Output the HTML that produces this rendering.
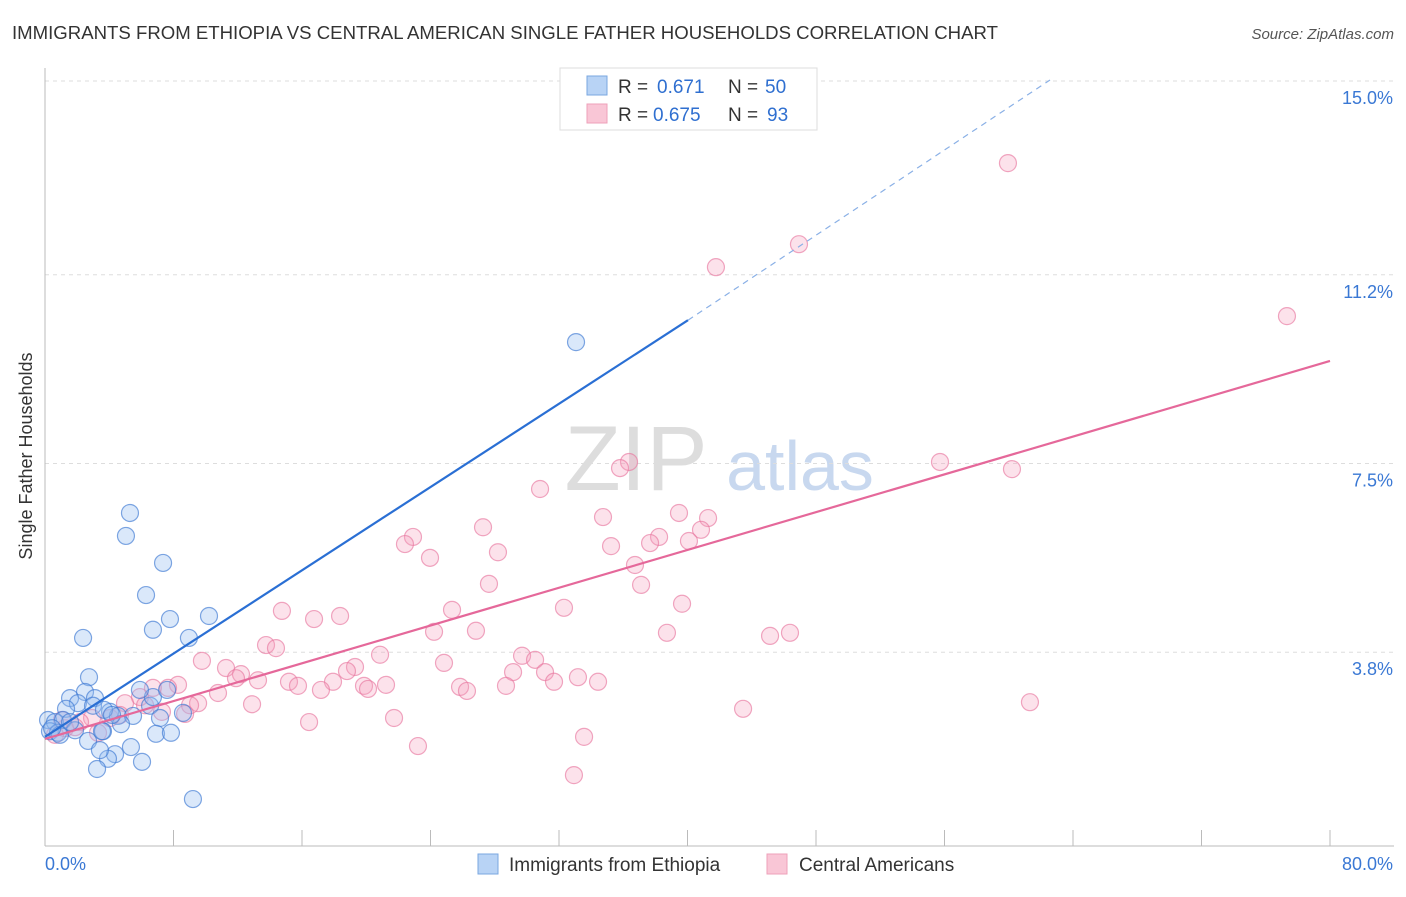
<!DOCTYPE html>
<html><head><meta charset="utf-8"><style>
body{margin:0;background:#fff;font-family:"Liberation Sans",sans-serif}
svg text{font-family:"Liberation Sans",sans-serif}
</style></head><body>
<svg id="c" width="1406" height="892">
<text x="12" y="39" font-size="18.6" fill="#333">IMMIGRANTS FROM ETHIOPIA VS CENTRAL AMERICAN SINGLE FATHER HOUSEHOLDS CORRELATION CHART</text>
<text x="1394" y="39" font-size="15" fill="#555" text-anchor="end" font-style="italic">Source: ZipAtlas.com</text>
<text x="32" y="456" font-size="18" fill="#333" text-anchor="middle" transform="rotate(-90 32 456)">Single Father Households</text>
<g><text x="636" y="490" font-size="92" fill="#ddd" text-anchor="middle" font-family="Liberation Serif">ZIP</text><text x="800" y="490" font-size="70" fill="#c8d8ef" text-anchor="middle">atlas</text></g>
<g id="grid"></g><g id="axes"></g><g id="pts"></g><g id="lines"></g>
<g>
<rect x="560" y="68" width="257" height="62" fill="#fff" stroke="#ddd"/>
<rect x="587" y="76" width="20" height="19" fill="#b8d3f5" stroke="#7aa7e0"/>
<rect x="587" y="104" width="20" height="19" fill="#f9c6d6" stroke="#eea0b9"/>
<text x="618" y="93" font-size="19" fill="#333">R =</text><text x="657" y="93" font-size="19" fill="#2f6fd0">0.671</text><text x="728" y="93" font-size="19" fill="#333">N =</text><text x="765" y="93" font-size="19" fill="#2f6fd0">50</text>
<text x="618" y="121" font-size="19" fill="#333">R =</text><text x="653" y="121" font-size="19" fill="#2f6fd0">0.675</text><text x="728" y="121" font-size="19" fill="#333">N =</text><text x="767" y="121" font-size="19" fill="#2f6fd0">93</text>
</g>
<g>
<rect x="478" y="854" width="20" height="20" fill="#b8d3f5" stroke="#7aa7e0"/>
<text x="509" y="871" font-size="19" fill="#333">Immigrants from Ethiopia</text>
<rect x="767" y="854" width="20" height="20" fill="#f9c6d6" stroke="#eea0b9"/>
<text x="799" y="871" font-size="19" fill="#333">Central Americans</text>
</g>
</svg>
<script>
const xTicks=[0,8,16,24,32,40,48,56,64,72,80];
const yTicks=[3.8,7.5,11.2,15.0];
const yTickLabels=["3.8%","7.5%","11.2%","15.0%"];
const bluePx=[[130,513],[126,536],[163,563],[146,595],[170,619],[209,616],[153,630],[189,638],[83,638],[89,677],[85,692],[70,698],[95,698],[78,703],[66,709],[93,706],[110,712],[118,716],[133,716],[150,706],[153,697],[167,690],[160,718],[183,713],[48,720],[55,722],[63,720],[50,731],[58,733],[75,730],[103,731],[121,724],[104,710],[88,741],[102,731],[131,747],[115,754],[108,759],[97,769],[142,762],[156,734],[171,733],[193,799],[576,342],[60,735],[52,728],[140,690],[112,715],[70,722],[100,750]];
const pinkPx=[[1008,163],[799,244],[716,267],[1287,316],[629,462],[620,468],[940,462],[1012,469],[540,489],[603,517],[679,513],[708,518],[483,527],[413,537],[405,544],[701,530],[611,546],[659,537],[650,543],[689,541],[498,552],[430,558],[635,565],[641,585],[489,584],[282,611],[340,616],[452,610],[564,608],[682,604],[314,619],[434,632],[476,631],[667,633],[770,636],[790,633],[266,645],[276,648],[202,661],[380,655],[522,656],[535,660],[444,663],[226,668],[241,674],[355,667],[347,671],[545,672],[513,672],[554,682],[578,677],[598,682],[236,678],[258,680],[289,682],[298,686],[333,682],[386,685],[364,686],[368,689],[460,687],[467,691],[506,686],[321,690],[178,685],[153,688],[168,688],[218,693],[140,697],[198,703],[252,704],[190,705],[743,709],[1030,702],[394,718],[309,722],[418,746],[584,737],[574,775],[125,703],[145,705],[162,712],[185,714],[110,718],[92,718],[80,722],[65,728],[55,735],[98,733],[75,727],[120,715],[62,720]];
const blueX=bluePx.map(p=>+((p[0]-45)*80/1285).toFixed(2)), blueY=bluePx.map(p=>+(15-(p[1]-81)/51).toFixed(2));
const pinkX=pinkPx.map(p=>+((p[0]-45)*80/1285).toFixed(2)), pinkY=pinkPx.map(p=>+(15-(p[1]-81)/51).toFixed(2));
const blueTrend=[[0,2.14],[40.03,10.31],[62.57,15.02]];
const pinkTrend=[[0,2.1],[80,9.51]];
const X=v=>45+v/80*1285, Y=v=>81+(15-v)*51;
const NS="http://www.w3.org/2000/svg";
function mk(t,a,p){const e=document.createElementNS(NS,t);for(const k in a)e.setAttribute(k,a[k]);p.appendChild(e);return e;}
const g=document.getElementById('grid'),ax=document.getElementById('axes'),pts=document.getElementById('pts'),ln=document.getElementById('lines');
yTicks.forEach((v,i)=>{const l=mk('line',{x1:45,x2:1394,y1:Y(v),y2:Y(v),stroke:'#ddd','stroke-dasharray':'4 4'},g);

const t=mk('text',{x:1393,y:Y(v)+23,'font-size':18,fill:'#3a78d4','text-anchor':'end'},ax);t.textContent=yTickLabels[i];
});
const a1=mk('line',{x1:45,x2:45,y1:68,y2:846,stroke:'#bbb'},ax);
const a2=mk('line',{x1:45,x2:1394,y1:846,y2:846,stroke:'#bbb'},ax);
xTicks.forEach(v=>{const t=mk('line',{x1:X(v),x2:X(v),y1:830,y2:846,stroke:'#bbb'},ax);});
const xl=mk('text',{x:45,y:870,'font-size':18,fill:'#3a78d4'},ax);xl.textContent='0.0%';
const xr=mk('text',{x:1393,y:870,'font-size':18,fill:'#3a78d4','text-anchor':'end'},ax);xr.textContent='80.0%';
pinkX.forEach((x,i)=>{const c=mk('circle',{cx:X(x),cy:Y(pinkY[i]),r:8.5,fill:'rgba(245,160,190,0.3)',stroke:'rgba(232,120,160,0.65)','stroke-width':1.2},pts);
});
blueX.forEach((x,i)=>{const c=mk('circle',{cx:X(x),cy:Y(blueY[i]),r:8.5,fill:'rgba(150,190,240,0.35)',stroke:'rgba(60,120,210,0.65)','stroke-width':1.2},pts);
});
let l=mk('line',{x1:X(blueTrend[0][0]),y1:Y(blueTrend[0][1]),x2:X(blueTrend[1][0]),y2:Y(blueTrend[1][1]),stroke:'#2a6fd4','stroke-width':2.2},ln);

l=mk('line',{x1:X(blueTrend[1][0]),y1:Y(blueTrend[1][1]),x2:X(blueTrend[2][0]),y2:Y(blueTrend[2][1]),stroke:'#8ab0e6','stroke-width':1.2,'stroke-dasharray':'6 5'},ln);

l=mk('line',{x1:X(pinkTrend[0][0]),y1:Y(pinkTrend[0][1]),x2:X(pinkTrend[1][0]),y2:Y(pinkTrend[1][1]),stroke:'#e5689a','stroke-width':2.2},ln);

</script>
</body></html>
